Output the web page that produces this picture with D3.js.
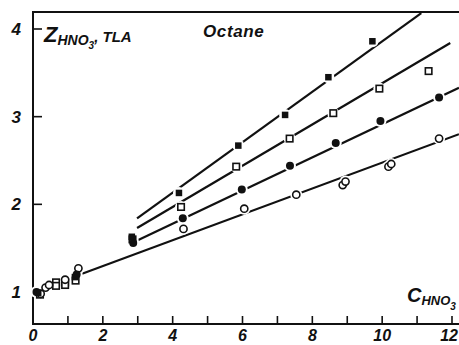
<!DOCTYPE html>
<html>
<head>
<meta charset="utf-8">
<script src="https://cdn.jsdelivr.net/npm/d3@7"></script>
<style>
  body { margin: 0; background: #fff; }
  svg { display: block; }
  text { font-family: "Liberation Sans", Arial, sans-serif; font-style: italic; font-weight: bold; fill: #111; }
</style>
</head>
<body>
<svg id="chart" width="459" height="345"></svg>
<script>
// points, [C_HNO3, Z]
const filledSquares = [[0.15, 0.99], [1.2, 1.17], [2.83, 1.63], [4.18, 2.13], [5.88, 2.67], [7.22, 3.02], [8.46, 3.45], [9.72, 3.86]];
const openSquares = [[0.2, 0.97], [0.66, 1.11], [0.66, 1.07], [0.92, 1.11], [0.92, 1.08], [1.22, 1.13], [2.85, 1.6], [4.24, 1.97], [5.82, 2.43], [7.35, 2.75], [8.6, 3.04], [9.92, 3.32], [11.33, 3.52]];
const filledCircles = [[0.1, 1.0], [1.25, 1.2], [2.87, 1.56], [4.29, 1.84], [5.98, 2.17], [7.36, 2.44], [8.67, 2.7], [9.95, 2.95], [11.63, 3.22]];
const openCircles = [[0.22, 0.98], [0.36, 1.05], [0.46, 1.08], [0.92, 1.14], [1.3, 1.27], [4.31, 1.72], [6.05, 1.95], [7.54, 2.11], [8.87, 2.22], [8.95, 2.26], [10.18, 2.43], [10.26, 2.46], [11.63, 2.75]];

// fitted lines, [start, end]
const lineFilledSq = [[2.98, 1.84], [11.12, 4.18]];
const lineOpenSq = [[2.98, 1.73], [11.95, 3.84]];
const lineFilledCirc = [[3.0, 1.59], [12.2, 3.33]];
const lineOpenCirc = [[1.29, 1.19], [12.2, 2.8]];

const xTicks = d3.range(1, 13);
const xLabels = [0, 2, 4, 6, 8, 10, 12];
const yTicks = [1, 2, 3, 4];

const svg = d3.select('#chart');
const x = d3.scaleLinear().domain([0, 12]).range([33, 452]);
const y = d3.scaleLinear().domain([1, 4]).range([292, 29]);
const frameL = 33, frameB = 324, frameT = 12, frameR = 459;

// frame
svg.append('path')
  .attr('d', `M${frameR},${frameT}H${frameL}V${frameB}H${frameR}`)
  .attr('fill', 'none').attr('stroke', '#111').attr('stroke-width', 2);

// ticks
svg.append('g').selectAll('line').data(xTicks).join('line')
  .attr('x1', d => x(d)).attr('x2', d => x(d))
  .attr('y1', frameB).attr('y2', frameB - 8)
  .attr('stroke', '#111').attr('stroke-width', 1.6);
svg.append('g').selectAll('line').data(yTicks).join('line')
  .attr('x1', frameL).attr('x2', frameL + 9)
  .attr('y1', d => y(d)).attr('y2', d => y(d))
  .attr('stroke', '#111').attr('stroke-width', 1.6);

// last label sits against the right edge
svg.append('g').selectAll('text').data(xLabels).join('text')
  .attr('x', d => d === 12 ? 458 : x(d)).attr('y', 341)
  .attr('text-anchor', d => d === 12 ? 'end' : 'middle').attr('font-size', 16)
  .text(d => d);
svg.append('g').selectAll('text').data(yTicks).join('text')
  .attr('x', 21).attr('y', d => y(d) + 6)
  .attr('text-anchor', 'end').attr('font-size', 17)
  .text(d => d);

// fitted lines
const line = d3.line().x(d => x(d[0])).y(d => y(d[1]));
svg.append('g').selectAll('path')
  .data([lineFilledSq, lineOpenSq, lineFilledCirc, lineOpenCirc]).join('path')
  .attr('d', line).attr('fill', 'none')
  .attr('stroke', '#111').attr('stroke-width', 2.2);

// white gaps around markers
const all = [...filledSquares, ...openSquares, ...filledCircles, ...openCircles];
svg.append('g').selectAll('circle').data(all).join('circle')
  .attr('cx', d => x(d[0])).attr('cy', d => y(d[1])).attr('r', 6)
  .attr('fill', '#fff');

const s = 6.5;
svg.append('g').selectAll('rect').data(openSquares).join('rect')
  .attr('x', d => x(d[0]) - s / 2).attr('y', d => y(d[1]) - s / 2)
  .attr('width', s).attr('height', s)
  .attr('fill', '#fff').attr('stroke', '#111').attr('stroke-width', 1.6);
svg.append('g').selectAll('circle').data(openCircles).join('circle')
  .attr('cx', d => x(d[0])).attr('cy', d => y(d[1])).attr('r', 3.6)
  .attr('fill', '#fff').attr('stroke', '#111').attr('stroke-width', 1.6);
svg.append('g').selectAll('rect').data(filledSquares).join('rect')
  .attr('x', d => x(d[0]) - s / 2).attr('y', d => y(d[1]) - s / 2)
  .attr('width', s).attr('height', s).attr('fill', '#111');
svg.append('g').selectAll('circle').data(filledCircles).join('circle')
  .attr('cx', d => x(d[0])).attr('cy', d => y(d[1])).attr('r', 4)
  .attr('fill', '#111');

// labels
const zl = svg.append('text').attr('x', 44).attr('y', 42);
zl.append('tspan').attr('font-size', 22).text('Z');
zl.append('tspan').attr('font-size', 14).attr('dy', 3).text('HNO');
zl.append('tspan').attr('font-size', 10).attr('dy', 4).text('3');
zl.append('tspan').attr('font-size', 15).attr('dy', -7).text(', TLA');

svg.append('text').attr('x', 203).attr('y', 37)
  .attr('font-size', 17).attr('font-weight', 'normal').attr('letter-spacing', 0.6).text('Octane');

const cl = svg.append('text').attr('x', 407).attr('y', 302);
cl.append('tspan').attr('font-size', 20).text('C');
cl.append('tspan').attr('font-size', 13).attr('dy', 3).text('HNO');
cl.append('tspan').attr('font-size', 10).attr('dy', 5).text('3');
</script>
</body>
</html>
